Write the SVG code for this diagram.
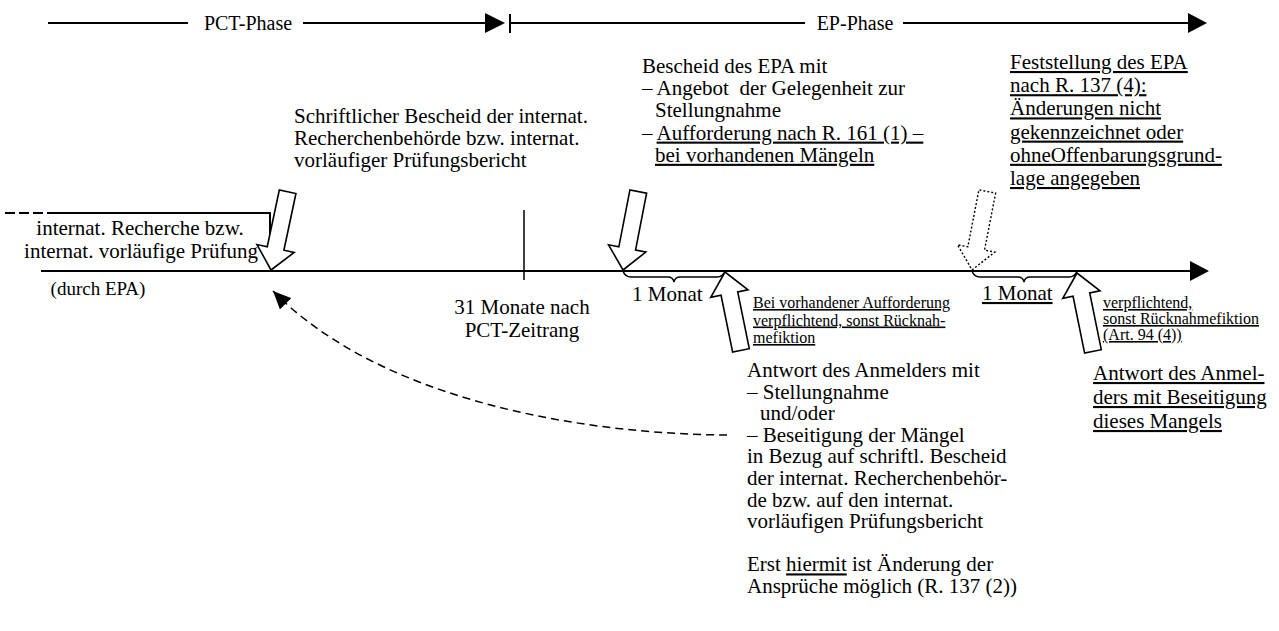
<svg xmlns="http://www.w3.org/2000/svg" width="1279" height="631" viewBox="0 0 1279 631">
<style>
  text { font-family: "Liberation Serif", "Times New Roman", serif; fill: #000; }
  .t { font-size: 21px; }
  .h { font-size: 20px; }
  .s { font-size: 16px; }
  .u { text-decoration: underline; }
  .ln { stroke: #000; stroke-width: 2; fill: none; }
  .thin { stroke: #000; stroke-width: 1.5; fill: none; }
  .blk { stroke: #000; stroke-width: 1.6; fill: #fff; stroke-linejoin: miter; }
  .dot { stroke: #000; stroke-width: 1.4; fill: #fff; stroke-dasharray: 2 2; }
  .head { fill: #000; stroke: none; }
</style>
<defs>
  <polygon id="barrow" points="0,0 19,-22 8.5,-22 8.5,-80 -8.5,-80 -8.5,-22 -19,-22"/>
  <marker id="mk" markerUnits="userSpaceOnUse" markerWidth="18" markerHeight="16" refX="18" refY="8" orient="auto">
    <path d="M0 0 L18 8 L0 16 z" fill="#000"/>
  </marker>
</defs>
<rect width="1279" height="631" fill="#fff"/>

<g id="header">
  <path class="ln" d="M48 23 H188"/>
  <text class="h" x="248" y="30" text-anchor="middle">PCT-Phase</text>
  <path class="ln" d="M303 23 H488"/>
  <polygon class="head" points="485,13 505,23 485,33"/>
  <path class="ln" d="M510 14 V33"/>
  <path class="ln" d="M510 23 H805"/>
  <text class="h" x="855" y="30" text-anchor="middle">EP-Phase</text>
  <path class="ln" d="M903 23 H1190"/>
  <polygon class="head" points="1188,13 1207,23 1188,33"/>
</g>

<g id="connectors">
  <path class="ln" d="M41 271 H1192"/>
  <polygon class="head" points="1190,261 1209,271 1190,281"/>
  <path class="thin" d="M524 210 V280"/>
  <path class="ln" d="M5 213 H47" stroke-dasharray="10 4"/>
  <path class="ln" d="M47 213 H270 V246"/>
  <path class="thin" d="M623 271 Q625 277 631 277 L668 277 Q673 277 674 282 Q675 277 680 277 L717 277 Q723 277 725 271"/>
  <path class="thin" d="M972 271 Q974 277 980 277 L1018 277 Q1023 277 1024 282 Q1025 277 1030 277 L1069 277 Q1075 277 1077 271"/>
  <path class="thin" d="M727 435 C580 434 380 400 273 291" stroke-dasharray="8 5" marker-end="url(#mk)"/>
  <use href="#barrow" class="blk" transform="translate(271 270) rotate(12)"/>
  <use href="#barrow" class="blk" transform="translate(623 270) rotate(11)"/>
  <use href="#barrow" class="dot" transform="translate(972 270) rotate(11)"/>
  <use href="#barrow" class="blk" transform="translate(725 272) rotate(168.5)"/>
  <use href="#barrow" class="blk" transform="translate(1077 273) rotate(168.5)"/>
</g>

<g id="recherche">
  <text class="t" x="140" y="235" text-anchor="middle">internat. Recherche bzw.</text>
  <text class="t" x="141" y="257.5" text-anchor="middle">internat. vorläufige Prüfung</text>
  <text class="t" x="98" y="295" text-anchor="middle" style="font-size:19px">(durch EPA)</text>
</g>

<g id="schriftlicher-bescheid">
  <text class="t" x="294" y="122.5">Schriftlicher Bescheid der internat.</text>
  <text class="t" x="294" y="144.5">Recherchenbehörde bzw. internat.</text>
  <text class="t" x="294" y="166.5">vorläufiger Prüfungsbericht</text>
</g>

<g id="monate31">
  <text class="t" x="522" y="314" text-anchor="middle">31 Monate nach</text>
  <text class="t" x="522" y="337" text-anchor="middle">PCT-Zeitrang</text>
</g>

<g id="bescheid-epa">
  <text class="t" x="642" y="73">Bescheid des EPA mit</text>
  <text class="t" x="642" y="95.2" xml:space="preserve">– Angebot  der Gelegenheit zur</text>
  <text class="t" x="655" y="117.4">Stellungnahme</text>
  <text class="t" x="642" y="139.6">– <tspan class="u">Aufforderung nach R. 161 (1) –</tspan></text>
  <text class="t u" x="655" y="161.8">bei vorhandenen Mängeln</text>
</g>

<g id="monat1">
  <text class="t" x="632" y="301">1 Monat</text>
</g>

<g id="bei-aufforderung">
  <text class="s u" x="753" y="308">Bei vorhandener Aufforderung</text>
  <text class="s u" x="753" y="325.5">verpflichtend, sonst Rücknah-</text>
  <text class="s u" x="753" y="343">mefiktion</text>
</g>

<g id="antwort-anmelder">
  <text class="t" x="747" y="377">Antwort des Anmelders mit</text>
  <text class="t" x="747" y="398.6">– Stellungnahme</text>
  <text class="t" x="760" y="420.2">und/oder</text>
  <text class="t" x="747" y="441.8">– Beseitigung der Mängel</text>
  <text class="t" x="747" y="463.4">in Bezug auf schriftl. Bescheid</text>
  <text class="t" x="747" y="485">der internat. Recherchenbehör-</text>
  <text class="t" x="747" y="506.6">de bzw. auf den internat.</text>
  <text class="t" x="747" y="528.2">vorläufigen Prüfungsbericht</text>
  <text class="t" x="747" y="571.4">Erst <tspan class="u">hiermit</tspan> ist Änderung der</text>
  <text class="t" x="747" y="593">Ansprüche möglich (R. 137 (2))</text>
</g>

<g id="feststellung">
  <text class="t u" x="1010" y="69">Feststellung des EPA</text>
  <text class="t u" x="1010" y="92.2">nach R. 137 (4):</text>
  <text class="t u" x="1010" y="115.4">Änderungen nicht</text>
  <text class="t u" x="1010" y="138.6">gekennzeichnet oder</text>
  <text class="t u" x="1010" y="161.8">ohneOffenbarungsgrund-</text>
  <text class="t u" x="1010" y="185">lage angegeben</text>
</g>

<g id="monat2">
  <text class="t u" x="982" y="300">1 Monat</text>
</g>

<g id="verpflichtend">
  <text class="s u" x="1103" y="308">verpflichtend,</text>
  <text class="s u" x="1103" y="324">sonst Rücknahmefiktion</text>
  <text class="s u" x="1103" y="340">(Art. 94 (4))</text>
</g>

<g id="antwort-beseitigung">
  <text class="t u" x="1093" y="380">Antwort des Anmel-</text>
  <text class="t u" x="1093" y="404">ders mit Beseitigung</text>
  <text class="t u" x="1093" y="428">dieses Mangels</text>
</g>
</svg>
